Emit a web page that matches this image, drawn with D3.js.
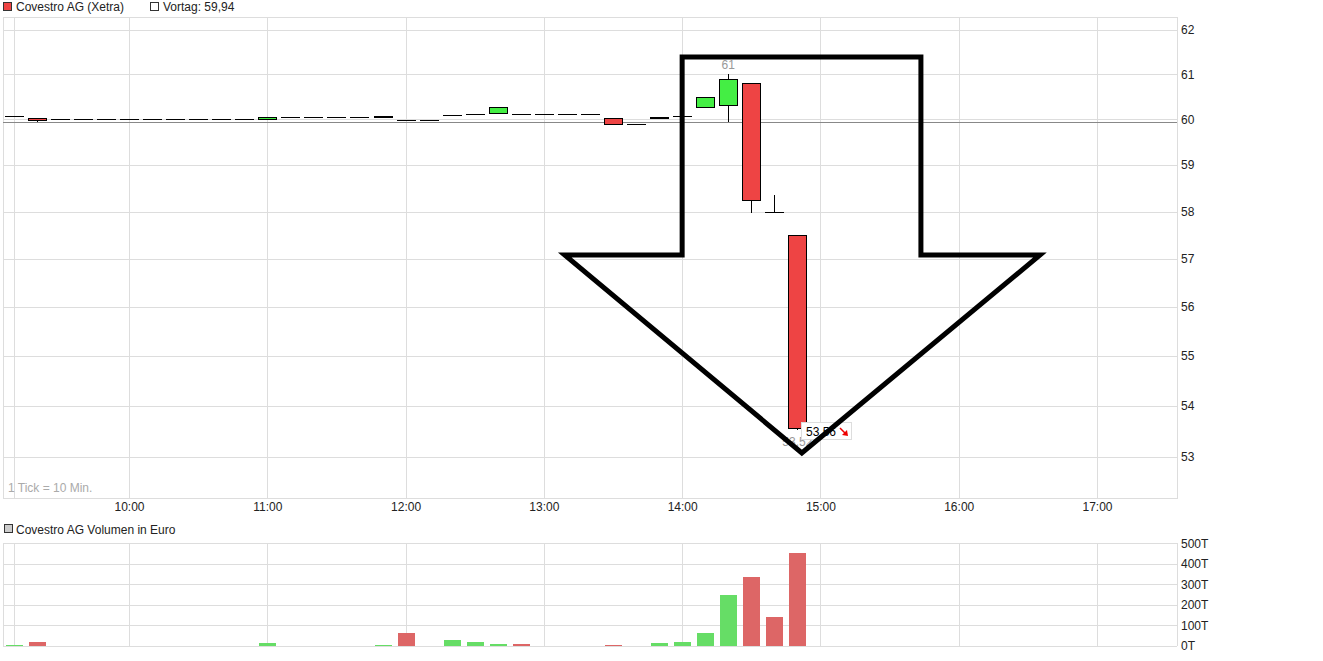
<!DOCTYPE html>
<html><head><meta charset="utf-8">
<script src="https://cdn.jsdelivr.net/npm/d3@7"></script>
<style>body{margin:0;background:#fff;} svg{display:block;font-family:"Liberation Sans",Arial,sans-serif;}</style>
</head><body><svg id="c" width="1323" height="661"></svg>
<script>
// ---- data ----
const times = ["09:10","09:20","09:30","09:40","09:50","10:00","10:10","10:20","10:30","10:40","10:50",
  "11:00","11:10","11:20","11:30","11:40","11:50","12:00","12:10","12:20","12:30","12:40","12:50",
  "13:00","13:10","13:20","13:30","13:40","13:50","14:00","14:10","14:20","14:30","14:40","14:50"];
const openP  = [60.07,60.03,60.00,60.00,60.00,60.00,60.00,60.00,60.00,60.00,60.00,
  60.00,60.04,60.04,60.04,60.04,60.04,59.98,59.98,60.09,60.11,60.13,60.11,
  60.11,60.11,60.11,60.02,59.89,60.02,60.07,60.27,60.31,60.80,58.00,57.50];
const highP  = [60.07,60.03,60.00,60.00,60.00,60.00,60.00,60.00,60.00,60.00,60.00,
  60.05,60.04,60.04,60.04,60.04,60.07,59.98,59.98,60.09,60.11,60.28,60.11,
  60.11,60.11,60.11,60.02,59.89,60.04,60.07,60.49,61.00,60.80,58.35,57.50];
const lowP   = [60.07,59.95,60.00,60.00,60.00,60.00,60.00,60.00,60.00,60.00,60.00,
  60.00,60.04,60.04,60.04,60.04,60.04,59.98,59.98,60.09,60.11,60.13,60.11,
  60.11,60.11,60.11,59.89,59.89,60.02,60.07,60.27,59.95,57.98,58.00,53.52];
const closeP = [60.07,59.99,60.00,60.00,60.00,60.00,60.00,60.00,60.00,60.00,60.00,
  60.05,60.04,60.04,60.04,60.04,60.07,59.98,59.98,60.09,60.11,60.28,60.11,
  60.11,60.11,60.11,59.89,59.89,60.04,60.07,60.49,60.89,58.24,58.00,53.56];
const volumeT = [5,19,0,0,0,0,0,0,0,0,0,15,0,0,0,0,5,65,0,29,19,10,10,0,0,0,5,0,15,19,61,246,338,139,455];
const vortag = 59.94;
const priceTicks = [53,54,55,56,57,58,59,60,61,62];
const volTicks = [0,100,200,300,400,500];
const hourLabels = ["10:00","11:00","12:00","13:00","14:00","15:00","16:00","17:00"];
const gridTimes = ["09:10","10:00","11:00","12:00","13:00","14:00","15:00","16:00","17:00"];
// annotation arrow outline (time, price)
const arrowTimes  = ["14:00:00","15:43:36","15:43:36","16:35:12","14:51:56","13:09:06","14:00:00","14:00:00"];
const arrowPrices = [61.39,61.39,57.08,57.08,53.08,57.08,57.08,61.39];

// ---- layout ----
const L = 3, R = 1177, pTop = 17, pBot = 498, vTop = 543, vBot = 646;
const pt = d3.timeParse("%H:%M"), pts = d3.timeParse("%H:%M:%S");
const x = d3.scaleTime().domain([pt("10:00"), pt("17:00")]).range([129, 1097]);
const yP = d3.scaleLog().domain([53, 62]).range([457, 30]);
const yV = d3.scaleLinear().domain([0, 500]).range([646, 543.3]);

const svg = d3.select("#c");
const data = times.map((t,i)=>({t:pt(t),o:openP[i],h:highP[i],l:lowP[i],c:closeP[i],v:volumeT[i],
  pc: i===0 ? vortag : closeP[i-1]}));

const GRID = "#dddddd";
// legends
svg.append("rect").attr("x",3.5).attr("y",2.5).attr("width",8).attr("height",8).attr("fill","#ee4444").attr("stroke","#333");
svg.append("text").attr("x",16).attr("y",11).attr("font-size",12).attr("fill","#222").text("Covestro AG (Xetra)");
svg.append("rect").attr("x",150.5).attr("y",2.5).attr("width",8).attr("height",8).attr("fill","#fff").attr("stroke","#333");
svg.append("text").attr("x",163).attr("y",11).attr("font-size",12).attr("fill","#222").text("Vortag: 59,94");
svg.append("rect").attr("x",4.5).attr("y",524.5).attr("width",8).attr("height",8).attr("fill","#ccc").attr("stroke","#333");
svg.append("text").attr("x",16).attr("y",534).attr("font-size",12).attr("fill","#222").text("Covestro AG Volumen in Euro");

// price panel grid
const gp = svg.append("g").attr("shape-rendering","crispEdges");
gp.selectAll(".hg").data(priceTicks).join("line")
  .attr("x1",L).attr("x2",R).attr("y1",d=>Math.round(yP(d))+0.5).attr("y2",d=>Math.round(yP(d))+0.5).attr("stroke",GRID);
gp.selectAll(".vg").data(gridTimes).join("line")
  .attr("x1",d=>Math.round(x(pt(d)))+0.5).attr("x2",d=>Math.round(x(pt(d)))+0.5).attr("y1",pTop).attr("y2",pBot).attr("stroke",GRID);
gp.append("rect").attr("x",L+0.5).attr("y",pTop+0.5).attr("width",R-L).attr("height",pBot-pTop).attr("fill","none").attr("stroke",GRID);

// volume panel grid
const gv = svg.append("g").attr("shape-rendering","crispEdges");
gv.selectAll(".hg").data(volTicks).join("line")
  .attr("x1",L).attr("x2",R).attr("y1",d=>Math.round(yV(d))+0.5).attr("y2",d=>Math.round(yV(d))+0.5).attr("stroke",GRID);
gv.selectAll(".vg").data(gridTimes).join("line")
  .attr("x1",d=>Math.round(x(pt(d)))+0.5).attr("x2",d=>Math.round(x(pt(d)))+0.5).attr("y1",vTop).attr("y2",vBot).attr("stroke",GRID);
gv.append("line").attr("x1",L+0.5).attr("x2",L+0.5).attr("y1",vTop).attr("y2",vBot).attr("stroke",GRID);
gv.append("line").attr("x1",R+0.5).attr("x2",R+0.5).attr("y1",vTop).attr("y2",vBot).attr("stroke",GRID);

// axes
function styleAxis(g){ g.select(".domain").remove(); g.selectAll("line").remove();
  g.selectAll("text").attr("font-size",12).attr("fill","#222").attr("font-family","Liberation Sans, Arial, sans-serif"); }
svg.append("g").attr("transform",`translate(${R},0)`)
  .call(d3.axisRight(yP).tickValues(priceTicks).tickFormat(d=>String(d)).tickSize(0).tickPadding(4)).call(styleAxis);
svg.append("g").attr("transform",`translate(${R},0)`)
  .call(d3.axisRight(yV).tickValues(volTicks).tickFormat(d=>d+"T").tickSize(0).tickPadding(4)).call(styleAxis);
svg.append("g").attr("transform",`translate(0,${pBot})`)
  .call(d3.axisBottom(x).tickValues(hourLabels.map(pt)).tickFormat(d3.timeFormat("%H:%M")).tickSize(0).tickPadding(4.5)).call(styleAxis);

svg.append("text").attr("x",8).attr("y",492).attr("font-size",12).attr("fill","#aaa").text("1 Tick = 10 Min.");

// Vortag line
svg.append("line").attr("x1",L).attr("x2",R).attr("y1",Math.round(yP(vortag))+0.5).attr("y2",Math.round(yP(vortag))+0.5)
  .attr("stroke","#888").attr("shape-rendering","crispEdges");

// volume bars
const vb = svg.append("g").attr("shape-rendering","crispEdges");
vb.selectAll("rect").data(data.filter(d=>d.v>0)).join("rect")
  .attr("x",d=>Math.round(x(d.t))-8).attr("width",17)
  .attr("y",d=>Math.round(yV(d.v))).attr("height",d=>Math.round(yV(0))-Math.round(yV(d.v)))
  .attr("fill",d=>d.c>=d.pc ? "#66dd66" : "#dd6666");

// candles
const cg = svg.append("g").attr("shape-rendering","crispEdges");
cg.selectAll(".w").data(data.filter(d=>d.h>Math.max(d.o,d.c) || d.l<Math.min(d.o,d.c))).join("line")
  .attr("x1",d=>Math.round(x(d.t))+0.5).attr("x2",d=>Math.round(x(d.t))+0.5)
  .attr("y1",d=>Math.round(yP(d.h))).attr("y2",d=>Math.round(yP(d.l))).attr("stroke","#000");
const bodyTop = d=>Math.round(yP(Math.max(d.o,d.c)));
const bodyH = d=>Math.round(yP(Math.min(d.o,d.c)))-bodyTop(d);
// doji / flat candles: horizontal line
cg.selectAll(".d").data(data.filter(d=>bodyH(d)<1)).join("line")
  .attr("x1",d=>Math.round(x(d.t))-9).attr("x2",d=>Math.round(x(d.t))+10)
  .attr("y1",d=>bodyTop(d)+0.5).attr("y2",d=>bodyTop(d)+0.5).attr("stroke","#000");
cg.selectAll(".b").data(data.filter(d=>bodyH(d)>=1)).join("rect")
  .attr("x",d=>Math.round(x(d.t))-9+0.5).attr("width",18)
  .attr("y",d=>bodyTop(d)+0.5).attr("height",bodyH)
  .attr("fill",d=>d.c>d.o ? "#44ee44" : "#ee4444")
  .attr("stroke","#000");

// high / low labels
const fmt = v => String(+v.toFixed(2)).replace(".",",");
const hiIdx = d3.maxIndex(highP), loIdx = d3.minIndex(lowP);
svg.append("text").attr("x",x(pt(times[hiIdx]))).attr("y",yP(highP[hiIdx])-5).attr("text-anchor","middle")
  .attr("font-size",12).attr("fill","#999").text(fmt(highP[hiIdx]));
svg.append("text").attr("x",x(pt(times[loIdx]))).attr("y",yP(lowP[loIdx])+16).attr("text-anchor","middle")
  .attr("font-size",12).attr("fill","#999").text(fmt(lowP[loIdx]));

// last price label
const last = data[data.length-1];
const lx = Math.round(x(last.t))+4, ly = Math.round(yP(last.c));
svg.append("rect").attr("x",lx+0.5).attr("y",ly-5.5).attr("width",50).attr("height",17)
  .attr("fill","#fff").attr("stroke","#ddd").attr("shape-rendering","crispEdges");
svg.append("text").attr("x",lx+5).attr("y",ly+8).attr("font-size",12).attr("fill","#000").text(d3.format(".2f")(last.c));
svg.append("line").attr("x1",lx+39).attr("y1",ly).attr("x2",lx+45).attr("y2",ly+6).attr("stroke","#e00").attr("stroke-width",1.5);
svg.append("path").attr("d",`M${lx+47},${ly+8} L${lx+41},${ly+7} L${lx+46},${ly+2} Z`).attr("fill","#e00");

// annotation arrow
const arrowPts = arrowTimes.map((t,i)=>[x(pts(t)), yP(arrowPrices[i])]);
svg.append("path").attr("d",d3.line()(arrowPts)+"Z").attr("fill","none").attr("stroke","#000")
  .attr("stroke-width",5).attr("stroke-linejoin","miter");
</script></body></html>
